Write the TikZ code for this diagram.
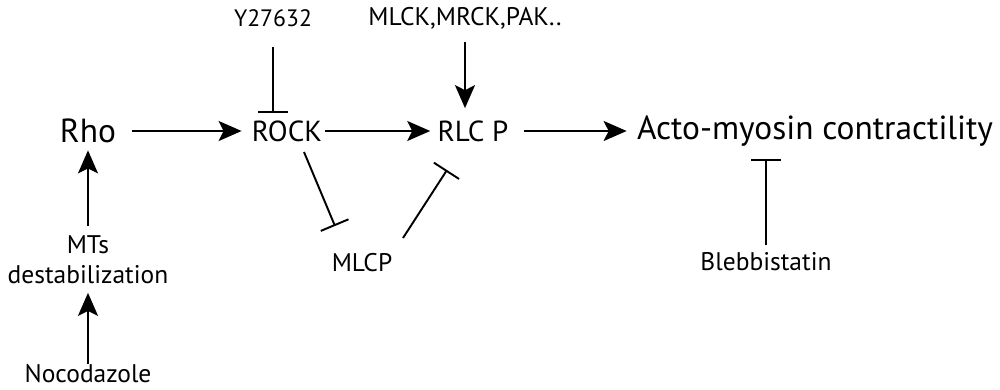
\documentclass[tikz,border=0pt]{standalone}
\usepackage{fontspec}
\setmainfont{PT Sans}
\usetikzlibrary{arrows.meta}
\tikzset{
  big/.style={inner sep=0pt, font=\fontsize{19}{22}\selectfont},
  mid/.style={inner sep=0pt, font=\fontsize{16.5}{19}\selectfont},
  small/.style={inner sep=0pt, align=center, font=\fontsize{14.5}{17}\selectfont},
  act/.style={-{Stealth[length=4.6mm, width=4mm, inset=1mm]}, line width=1.1pt},
  inh/.style={-{Bar[width=6mm, line width=1.1pt]}, line width=1.1pt},
}
\begin{document}
\begin{tikzpicture}
  \useasboundingbox (0,0) rectangle (20,7.78);
  % pathway nodes
  \node[big] (rho) at (1.76,5.16) {Rho};
  \node[mid] (rock) at (5.74,5.16) {ROCK};
  \node[mid] (rlcp) at (9.46,5.16) {RLC P};
  \node[big] (acto) at (16.3,5.16) {Acto-myosin contractility};
  % regulators and drugs
  \node[small, font=\fontsize{13.5}{16}\selectfont] (y27) at (5.46,7.42) {Y27632};
  \node[small] (mlck) at (9.30,7.42) {MLCK,MRCK,PAK..};
  \node[small] (mlcp) at (7.24,2.52) {MLCP};
  \node[small] (bleb) at (15.32,2.54) {Blebbistatin};
  \node[small] (mts) at (1.76,2.59) {MTs\\destabilization};
  \node[small] (noco) at (1.76,0.3) {Nocodazole};
  % activations
  \draw[act, shorten <=0.32cm, shorten >=0.2cm] (rho.east) -- (rock.west);
  \draw[act, shorten <=0.06cm, shorten >=0.14cm] (rock.east) -- (rlcp.west);
  \draw[act, shorten <=0.3cm, shorten >=0.2cm] (rlcp.east) -- (acto.west);
  \draw[act, shorten <=0.26cm, shorten >=0.24cm] (mlck.south) -- (mlck.south |- rlcp.north);
  \draw[act, shorten <=0.18cm, shorten >=0.14cm] (mts.north) -- (rho.south);
  \draw[act, shorten >=0.18cm] (noco.north) -- (mts.south);
  % inhibitions
  \draw[inh, shorten <=0.4cm, shorten >=0.14cm] (y27.south) -- (y27.south |- rock.north);
  \draw[inh] ([shift={(0.34,-0.42)}]rock.center) -- ([shift={(-0.54,0.74)}]mlcp.center);
  \draw[inh] ([shift={(0.82,0.5)}]mlcp.center) -- ([shift={(-0.52,-0.78)}]rlcp.center);
  \draw[inh, shorten <=0.14cm, shorten >=0.24cm] (bleb.north -| bleb.center) -- (bleb.center |- acto.south);
\end{tikzpicture}
\end{document}
